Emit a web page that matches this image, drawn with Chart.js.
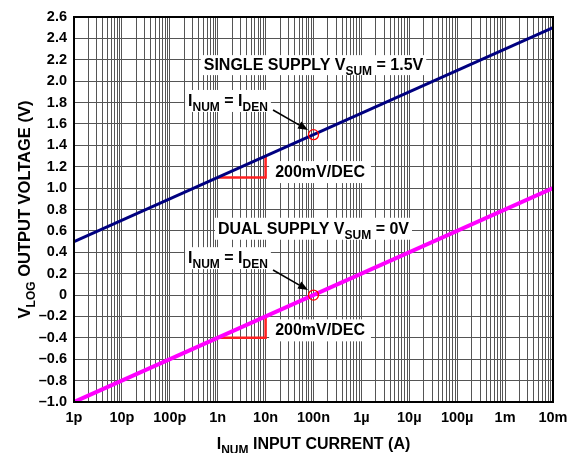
<!DOCTYPE html>
<html>
<head>
<meta charset="utf-8">
<script src="https://cdn.jsdelivr.net/npm/chart.js@4.4.1/dist/chart.umd.min.js"></script>
<style>
  html, body { margin: 0; padding: 0; background: #fff; }
  canvas { display: block; }
</style>
</head>
<body>
<canvas id="chart" width="580" height="453"></canvas>
<script>
// decade ticks on the current axis
const decadeValues = [1e-12, 1e-11, 1e-10, 1e-9, 1e-8, 1e-7, 1e-6, 1e-5, 1e-4, 1e-3, 1e-2];
const decadeLabels = ['1p', '10p', '100p', '1n', '10n', '100n', '1µ', '10µ', '100µ', '1m', '10m'];

// the two transfer lines (endpoints at 1p and 10m)
const lineCurrents = [1e-12, 1e-2];
const singleSupplyVlog = [0.5, 2.5];
const dualSupplyVlog = [-1.0, 1.0];

// INUM = IDEN crossing points
const crossCurrents = [1e-7, 1e-7];
const crossVlog = [1.5, 0];

// 200mV/DEC slope markers
const slopeCurrents = [1e-9, 1e-8, 1e-8];
const slopeSingle = [1.1, 1.1, 1.3];
const slopeDual = [-0.4, -0.4, -0.2];

const FONT = '"Liberation Sans", Arial, Helvetica, sans-serif';
const toXY = (xs, ys) => xs.map((x, i) => ({ x: x, y: ys[i] }));

// text labels: [text, isSubscript]
const notes = [
  { x: 1e-7, y: 2.15, padX: 3, h: 20, parts: [['SINGLE SUPPLY V', 0], ['SUM', 1], [' = 1.5V', 0]] },
  { x: 1.64e-9, y: 1.815, padX: 3, h: 22, parts: [['I', 0], ['NUM', 1], [' = I', 0], ['DEN', 1]] },
  { x: 1.37e-7, y: 1.15, padX: 6, h: 22, parts: [['200mV/DEC', 0]] },
  { x: 1e-7, y: 0.62, padX: 3, h: 22, parts: [['DUAL SUPPLY V', 0], ['SUM', 1], [' = 0V', 0]] },
  { x: 1.64e-9, y: 0.345, padX: 3, h: 22, parts: [['I', 0], ['NUM', 1], [' = I', 0], ['DEN', 1]] },
  { x: 1.37e-7, y: -0.33, padX: 6, h: 22, parts: [['200mV/DEC', 0]] }
];
const arrows = [
  { x0: 1.43e-8, y0: 1.73, x1: 7.7e-8, y1: 1.543 },
  { x0: 1.43e-8, y0: 0.234, x1: 7.7e-8, y1: 0.047 }
];

function richWidth(ctx, parts, size, subSize) {
  let w = 0;
  parts.forEach(p => {
    ctx.font = 'bold ' + (p[1] ? subSize : size) + 'px ' + FONT;
    w += ctx.measureText(p[0]).width;
  });
  return w;
}
function drawRich(ctx, parts, x, y, size, subSize) {
  // x = left, y = baseline
  let cx = x;
  parts.forEach(p => {
    ctx.font = 'bold ' + (p[1] ? subSize : size) + 'px ' + FONT;
    ctx.fillText(p[0], cx, p[1] ? y + Math.round(size * 0.3) : y);
    cx += ctx.measureText(p[0]).width;
  });
}

const annotate = {
  id: 'annotate',
  beforeDatasetsDraw(chart) {
    const ctx = chart.ctx, xs = chart.scales.x, ys = chart.scales.y;
    ctx.save();
    ctx.textBaseline = 'alphabetic';
    ctx.textAlign = 'left';
    notes.forEach(n => {
      const w = richWidth(ctx, n.parts, 16, 12);
      const cx = xs.getPixelForValue(n.x), cy = ys.getPixelForValue(n.y);
      ctx.fillStyle = '#fff';
      ctx.fillRect(cx - w / 2 - n.padX, cy - n.h / 2, w + 2 * n.padX, n.h);
      ctx.fillStyle = '#000';
      drawRich(ctx, n.parts, cx - w / 2, cy + 5, 16, 12);
    });
    ctx.restore();
  },
  afterDatasetsDraw(chart) {
    const ctx = chart.ctx, xs = chart.scales.x, ys = chart.scales.y;
    ctx.save();
    arrows.forEach(a => {
      const x0 = xs.getPixelForValue(a.x0), y0 = ys.getPixelForValue(a.y0);
      const x1 = xs.getPixelForValue(a.x1), y1 = ys.getPixelForValue(a.y1);
      const ang = Math.atan2(y1 - y0, x1 - x0);
      const hl = 10, hw = 4;
      ctx.strokeStyle = '#000';
      ctx.lineWidth = 1.6;
      ctx.beginPath();
      ctx.moveTo(x0, y0);
      ctx.lineTo(x1 - hl * Math.cos(ang), y1 - hl * Math.sin(ang));
      ctx.stroke();
      ctx.fillStyle = '#000';
      ctx.beginPath();
      ctx.moveTo(x1, y1);
      ctx.lineTo(x1 - hl * Math.cos(ang) + hw * Math.sin(ang), y1 - hl * Math.sin(ang) - hw * Math.cos(ang));
      ctx.lineTo(x1 - hl * Math.cos(ang) - hw * Math.sin(ang), y1 - hl * Math.sin(ang) + hw * Math.cos(ang));
      ctx.closePath();
      ctx.fill();
    });
    ctx.restore();
  },
  afterDraw(chart) {
    const ctx = chart.ctx, a = chart.chartArea;
    ctx.save();
    // plot frame
    ctx.strokeStyle = '#000';
    ctx.lineWidth = 2;
    ctx.strokeRect(a.left, a.top, a.right - a.left, a.bottom - a.top);
    // axis titles with subscripts
    ctx.fillStyle = '#000';
    ctx.textBaseline = 'alphabetic';
    ctx.textAlign = 'left';
    const xt = [['I', 0], ['NUM', 1], [' INPUT CURRENT (A)', 0]];
    const xw = richWidth(ctx, xt, 16, 12);
    drawRich(ctx, xt, (a.left + a.right) / 2 - xw / 2, 449, 16, 12);
    const yt = [['V', 0], ['LOG', 1], [' OUTPUT VOLTAGE (V)', 0]];
    const yw = richWidth(ctx, yt, 16.5, 12);
    ctx.translate(30, (a.top + a.bottom) / 2);
    ctx.rotate(-Math.PI / 2);
    drawRich(ctx, yt, -yw / 2, 0, 16.5, 12);
    ctx.restore();
  }
};

new Chart(document.getElementById('chart'), {
  type: 'line',
  data: {
    datasets: [
      {
        label: 'INUM = IDEN',
        data: toXY(crossCurrents, crossVlog),
        showLine: false,
        pointRadius: 5,
        pointBorderWidth: 1.3,
        pointBorderColor: '#ff0000',
        pointBackgroundColor: 'rgba(0,0,0,0)'
      },
      {
        label: 'Single supply VSUM = 1.5V',
        data: toXY(lineCurrents, singleSupplyVlog),
        borderColor: '#000080',
        borderWidth: 3,
        pointRadius: 0
      },
      {
        label: 'Dual supply VSUM = 0V',
        data: toXY(lineCurrents, dualSupplyVlog),
        borderColor: '#ff00ff',
        borderWidth: 4,
        pointRadius: 0
      },
      {
        label: 'slope single',
        data: toXY(slopeCurrents, slopeSingle),
        borderColor: '#ff2020',
        borderWidth: 2.5,
        pointRadius: 0
      },
      {
        label: 'slope dual',
        data: toXY(slopeCurrents, slopeDual),
        borderColor: '#ff2020',
        borderWidth: 2.5,
        pointRadius: 0
      }
    ]
  },
  options: {
    responsive: false,
    animation: false,
    devicePixelRatio: 1,
    layout: { padding: { left: 0, top: 17, right: 27, bottom: 0 } },
    plugins: {
      legend: { display: false },
      tooltip: { enabled: false }
    },
    scales: {
      x: {
        type: 'logarithmic',
        min: decadeValues[0],
        max: decadeValues[decadeValues.length - 1],
        afterFit: s => { s.height = 51; },
        afterBuildTicks: s => {
          const t = [];
          decadeValues.forEach((d, i) => {
            if (i === decadeValues.length - 1) { t.push({ value: d }); return; }
            for (let m = 1; m <= 9; m++) t.push({ value: d * m });
          });
          s.ticks = t;
        },
        grid: { color: '#555555', lineWidth: 1, drawTicks: false },
        border: { display: false },
        ticks: {
          autoSkip: false,
          maxRotation: 0,
          padding: 7,
          color: '#000',
          font: { family: FONT, size: 14.5, weight: 'bold' },
          callback: (v, i) => (i % 9 === 0 ? decadeLabels[i / 9] : '')
        }
      },
      y: {
        type: 'linear',
        min: -1.0,
        max: 2.6,
        afterFit: s => { s.width = 74; },
        grid: { color: '#555555', lineWidth: 1, drawTicks: false },
        border: { display: false },
        ticks: {
          stepSize: 0.2,
          padding: 7,
          color: '#000',
          font: { family: FONT, size: 14.5, weight: 'bold' },
          callback: v => {
            const r = Math.round(v * 10) / 10;
            if (r === 0) return '0';
            return r.toFixed(1).replace('-', '\u2013');
          }
        }
      }
    }
  },
  plugins: [annotate]
});
</script>
</body>
</html>
